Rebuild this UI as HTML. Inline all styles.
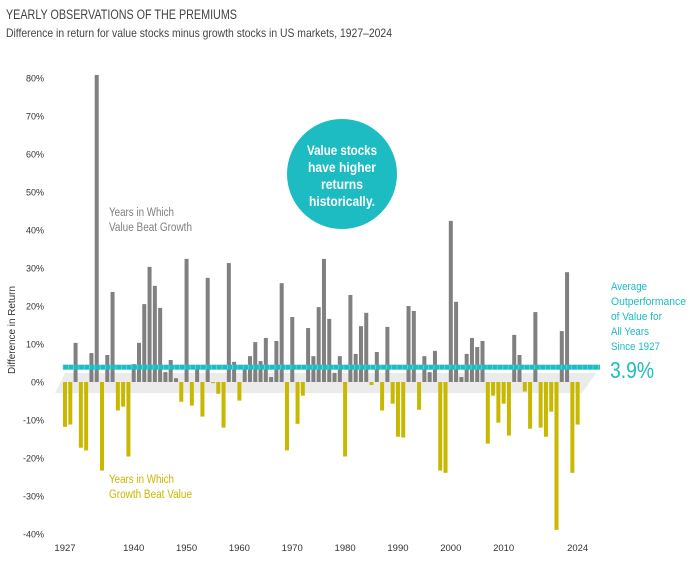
<!DOCTYPE html>
<html><head><meta charset="utf-8"><style>
body{margin:0;background:#fff;}
#wrap{position:relative;width:692px;height:575px;overflow:hidden;font-family:"Liberation Sans Narrow","Liberation Sans",sans-serif;}
svg text{font-family:"Liberation Sans Narrow","Liberation Sans",sans-serif;}
</style></head><body>
<div id="wrap">
<svg id="chart" width="692" height="575">
<text x="6" y="19" font-size="13.5" fill="#444" textLength="231" lengthAdjust="spacingAndGlyphs">YEARLY OBSERVATIONS OF THE PREMIUMS</text>
<text x="6" y="37" font-size="12" fill="#444" textLength="386" lengthAdjust="spacingAndGlyphs">Difference in return for value stocks minus growth stocks in US markets, 1927–2024</text>
<text transform="translate(15,330) rotate(-90)" text-anchor="middle" font-size="10" fill="#333" textLength="88" lengthAdjust="spacingAndGlyphs">Difference in Return</text>
<polygon points="65,373 596,373 582,393 55,393" fill="#ebebeb"/>
<g id="yticks"></g><g id="bars"></g><g id="avg"></g><g id="xticks"></g>
<text x="109" y="216" font-size="11.5" fill="#808080" textLength="65" lengthAdjust="spacingAndGlyphs">Years in Which</text>
<text x="109" y="231" font-size="11.5" fill="#808080" textLength="83" lengthAdjust="spacingAndGlyphs">Value Beat Growth</text>
<text x="109" y="483" font-size="11.5" fill="#c9b800" textLength="65" lengthAdjust="spacingAndGlyphs">Years in Which</text>
<text x="109" y="498" font-size="11.5" fill="#c9b800" textLength="83" lengthAdjust="spacingAndGlyphs">Growth Beat Value</text>
<circle cx="342" cy="174" r="55" fill="#1cbcc2"/>
<g font-size="14" font-weight="bold" fill="#fff" text-anchor="middle">
<text x="342" y="155" textLength="70" lengthAdjust="spacingAndGlyphs">Value stocks</text><text x="342" y="172" textLength="68" lengthAdjust="spacingAndGlyphs">have higher</text><text x="342" y="189" textLength="42" lengthAdjust="spacingAndGlyphs">returns</text><text x="342" y="206" textLength="66" lengthAdjust="spacingAndGlyphs">historically.</text></g>
<g font-size="11" fill="#1cbcc2">
<text x="611" y="290" textLength="36" lengthAdjust="spacingAndGlyphs">Average</text><text x="611" y="305" textLength="75" lengthAdjust="spacingAndGlyphs">Outperformance</text><text x="611" y="320" textLength="51" lengthAdjust="spacingAndGlyphs">of Value for</text><text x="611" y="335" textLength="38" lengthAdjust="spacingAndGlyphs">All Years</text><text x="611" y="350" textLength="49" lengthAdjust="spacingAndGlyphs">Since 1927</text>
<text x="610" y="378" font-size="23" textLength="44" lengthAdjust="spacingAndGlyphs">3.9%</text></g>
</svg>
</div>
<script>
const years=[];for(let y=1927;y<=2024;y++)years.push(y);
const values=[-11.8,-11.2,10.3,-17.3,-18,7.6,80.8,-23.3,7.1,23.7,-7.5,-6.5,-19.6,4.7,10.3,20.5,30.3,25.3,19.5,2.6,5.8,1.0,-5.2,32.4,-6.2,4.5,-9.1,27.4,-0.3,-3.1,-12,31.3,5.3,-4.9,3.7,6.8,10.5,5.5,11.6,1.3,10.8,26,-18,17.1,-11,-3.6,14.2,6.8,19.7,32.4,16.6,2.4,6.8,-19.6,22.9,7.4,14.7,18.2,-0.8,7.9,-7.5,14.5,-5.7,-14.4,-14.6,20,18.7,-7.3,6.8,2.6,8.2,-23.3,-23.9,42.4,21.1,1.3,7.4,11.6,9.2,10.8,-16.2,-3.6,-10.7,-5.7,-14.1,12.4,7.1,-2.5,-12.3,18.4,-12,-14.4,-7.8,-38.9,13.4,28.9,-23.9,-11.2];
const yTicks=[80,70,60,50,40,30,20,10,0,-10,-20,-30,-40];
const xTickYears=[1927,1940,1950,1960,1970,1980,1990,2000,2010,2024];
const average=3.9;
const NS="http://www.w3.org/2000/svg";
const yS=v=>382-v*3.8;
const xS=yr=>65+(yr-1927)*5.285;
function mk(t,a,p){const e=document.createElementNS(NS,t);for(const k in a)e.setAttribute(k,a[k]);p.appendChild(e);return e;}
const gy=document.getElementById('yticks');
yTicks.forEach(t=>{const e=mk('text',{x:44,y:yS(t)+3.5,'text-anchor':'end','font-size':9,fill:'#333'},gy);e.textContent=t+'%';

});
const gb=document.getElementById('bars');
years.forEach((yr,i)=>{const v=values[i];const y0=yS(0),y1=yS(v);
const r=mk('rect',{x:xS(yr)-2,y:Math.min(y0,y1),width:4,height:Math.max(0.8,Math.abs(y1-y0)),fill:v>=0?'#808080':'#c9b800'},gb);

});
const ga=document.getElementById('avg');
const ay=yS(average);
const al=mk('rect',{x:63,y:ay-2.5,width:537,height:5,fill:'#1cbcc2'},ga);


for(let x=63;x<600;x+=5.3){mk('line',{x1:x,y1:ay-2.5,x2:x,y2:ay+2.5,stroke:'#7fdde0','stroke-width':0.6},ga);}
const gx=document.getElementById('xticks');
xTickYears.forEach(yr=>{const e=mk('text',{x:xS(yr),y:551,'text-anchor':'middle','font-size':9.5,fill:'#333'},gx);e.textContent=yr;

});
</script>
</body></html>
